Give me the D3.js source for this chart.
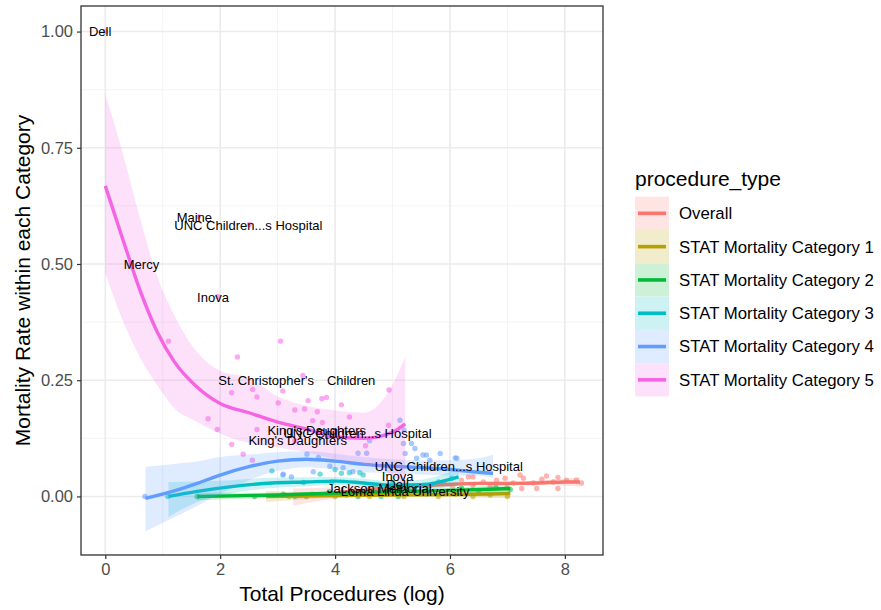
<!DOCTYPE html>
<html>
<head>
<meta charset="utf-8">
<script src="https://d3js.org/d3.v7.min.js"></script>
<style>
    body { margin: 0; background: #fff; }
    svg text { font-family: "Liberation Sans", Arial, Helvetica, sans-serif; }
</style>
</head>
<body>
<div id="chart"></div>
<script>
    "use strict"

    // categories
    var procedureTypes = ["Overall", "STAT Mortality Category 1", "STAT Mortality Category 2",
        "STAT Mortality Category 3", "STAT Mortality Category 4", "STAT Mortality Category 5"];
    var typeColors = ["#F8766D", "#B79F00", "#00BA38", "#00BFC4", "#619CFF", "#F564E3"];

    var xTicks = [0, 2, 4, 6, 8];
    var yTicks = [0, 0.25, 0.5, 0.75, 1];

    // hospitals, one array per procedure type: [log total procedures, mortality rate]
    var pointsOverall = [[6.2, 0.035], [6.32, 0.042], [6.4, 0.042], [6.4, 0.024], [6.58, 0.031], [6.7, 0.021],
        [6.81, 0.035], [6.96, 0.039], [6.99, 0.019], [7.1, 0.029], [7.22, 0.046], [7.25, 0.017],
        [7.28, 0.039], [7.45, 0.029], [7.51, 0.017], [7.6, 0.037], [7.68, 0.044], [7.8, 0.031],
        [7.88, 0.041], [7.88, 0.017], [8.03, 0.035], [8.2, 0.035], [8.29, 0.029], [5.9, 0.03], [6.05, 0.022]];
    var pointsCat1 = [[3.2, 0.0], [3.6, 0.005], [4.0, 0.0], [4.3, 0.008], [4.5, 0.01], [4.6, 0.0], [4.9, 0.004],
        [5.0, 0.012], [5.2, 0.0], [5.5, 0.006], [5.8, 0.0], [6.1, 0.005], [6.4, 0.0], [6.7, 0.003], [7.0, 0.0]];
    var pointsCat2 = [[1.6, 0.0], [2.6, 0.0], [3.1, 0.005], [3.5, 0.0], [3.9, 0.01], [4.2, 0.003], [4.4, 0.0],
        [4.6, 0.015], [4.9, 0.008], [5.1, 0.0], [5.3, 0.012], [5.6, 0.02], [5.9, 0.01], [6.2, 0.018],
        [6.5, 0.012], [6.8, 0.02], [7.05, 0.015]];
    var pointsCat3 = [[1.09, 0.0], [2.9, 0.055], [3.74, 0.048], [3.94, 0.031], [4.0, 0.058], [4.11, 0.05],
        [4.25, 0.051], [4.43, 0.051], [4.49, 0.046], [3.45, 0.03], [4.7, 0.02], [5.0, 0.03], [5.3, 0.012],
        [5.8, 0.031], [6.03, 0.039], [3.3, 0.0], [4.8, 0.0], [5.6, 0.005]];
    var pointsCat4 = [[0.69, 0.0], [3.09, 0.046], [3.1, 0.048], [3.24, 0.042], [3.51, 0.091], [3.62, 0.053],
        [3.71, 0.084], [3.91, 0.065], [4.14, 0.062], [4.31, 0.053], [4.4, 0.093], [4.55, 0.093],
        [5.13, 0.164], [5.2, 0.143], [5.19, 0.114], [5.33, 0.114], [5.39, 0.103], [5.42, 0.082],
        [5.22, 0.0925], [5.53, 0.089], [5.59, 0.089], [5.65, 0.078], [5.83, 0.0925], [6.09, 0.083],
        [6.12, 0.082], [3.91, 0.13], [4.6, 0.12]];
    var pointsCat5 = [[0, 1.0], [1.62, 0.602], [2.51, 0.585], [0.44, 0.498], [1.96, 0.43], [1.1, 0.334],
        [2.3, 0.3], [3.05, 0.334], [3.44, 0.26], [2.2, 0.223], [2.566, 0.23], [2.64, 0.214], [1.79, 0.167],
        [1.95, 0.144], [2.64, 0.144], [2.2, 0.112], [2.4, 0.091], [2.56, 0.078], [3.09, 0.227],
        [3.01, 0.201], [3.53, 0.206], [3.77, 0.21], [3.85, 0.213], [3.3, 0.186], [3.47, 0.188],
        [3.69, 0.182], [4.11, 0.197], [4.94, 0.229], [4.25, 0.171], [3.61, 0.163], [3.78, 0.159],
        [4.93, 0.153], [4.53, 0.109], [4.0, 0.14], [4.4, 0.13], [3.3, 0.12]];

    // loess fits: x, fit, lower, upper
    var smoothX = [
        [3.27, 4, 5, 6, 6.5, 7, 7.5, 8, 8.26],
        [2.8, 4, 5, 6, 7.05],
        [1.6, 3, 4, 5, 6, 7.05],
        [1.1, 1.6, 2.2, 2.9, 3.5, 4.0, 4.5, 5.0, 5.5, 6.15],
        [0.7, 1.2, 1.6, 2.0, 2.5, 3.0, 3.5, 4.0, 4.5, 5.0, 5.5, 6.0, 6.5, 6.75],
        [0, 0.3, 0.6, 0.9, 1.2, 1.6, 2.0, 2.5, 3.0, 3.5, 4.0, 4.5, 5.0, 5.22]
    ];
    var smoothFit = [
        [0.0, 0.008, 0.018, 0.026, 0.028, 0.028, 0.029, 0.031, 0.031],
        [0.0, 0.002, 0.003, 0.004, 0.006],
        [0.0, 0.003, 0.007, 0.01, 0.013, 0.017],
        [0.0, 0.011, 0.021, 0.029, 0.031, 0.033, 0.029, 0.024, 0.025, 0.042],
        [-0.004, 0.012, 0.028, 0.046, 0.064, 0.076, 0.08, 0.076, 0.069, 0.065, 0.062, 0.058, 0.052, 0.05],
        [0.668, 0.555, 0.445, 0.355, 0.29, 0.235, 0.2, 0.18, 0.16, 0.145, 0.128, 0.125, 0.138, 0.156]
    ];
    var smoothLo = [
        [-0.02, -0.004, 0.01, 0.021, 0.024, 0.024, 0.024, 0.023, 0.021],
        [-0.012, -0.003, -0.001, -0.001, -0.004],
        [-0.008, -0.002, 0.003, 0.006, 0.008, 0.008],
        [-0.044, -0.012, 0.007, 0.018, 0.022, 0.024, 0.021, 0.015, 0.014, 0.024],
        [-0.075, -0.045, -0.02, 0.005, 0.035, 0.055, 0.063, 0.058, 0.052, 0.05, 0.047, 0.045, 0.045, 0.04],
        [0.48, 0.38, 0.3, 0.24, 0.19, 0.16, 0.135, 0.115, 0.105, 0.095, 0.08, 0.07, 0.045, 0.015]
    ];
    var smoothHi = [
        [0.017, 0.02, 0.026, 0.031, 0.032, 0.032, 0.034, 0.038, 0.041],
        [0.012, 0.007, 0.007, 0.009, 0.016],
        [0.008, 0.008, 0.011, 0.014, 0.018, 0.026],
        [0.031, 0.032, 0.035, 0.04, 0.041, 0.042, 0.038, 0.033, 0.036, 0.06],
        [0.064, 0.07, 0.075, 0.085, 0.09, 0.095, 0.097, 0.092, 0.085, 0.08, 0.078, 0.078, 0.082, 0.09],
        [0.865, 0.74, 0.6, 0.475, 0.39, 0.31, 0.27, 0.255, 0.215, 0.195, 0.185, 0.18, 0.24, 0.3]
    ];

    // hospital names printed on the chart
    var labelText = ["Dell", "Maine", "UNC Children...s Hospital", "Mercy", "Inova", "St. Christopher's",
        "Children", "King's Daughters", "UNC Children...s Hospital", "King's Daughters",
        "UNC Children...s Hospital", "Inova", "Dell", "Jackson Memorial", "Loma Linda University"];
    var labelX = [-0.09, 1.55, 2.49, 0.63, 1.875, 2.8, 4.28, 3.68, 4.39, 3.35, 5.98, 5.09, 5.09, 4.77, 5.22];
    var labelY = [1.0, 0.6, 0.582, 0.5, 0.429, 0.249, 0.249, 0.143, 0.135, 0.12, 0.064, 0.042, 0.026, 0.018, 0.011];

    var allPoints = [pointsOverall, pointsCat1, pointsCat2, pointsCat3, pointsCat4, pointsCat5];

    var svg = d3.select("#chart").append("svg")
        .attr("width", 881)
        .attr("height", 610);

    var panel = { left: 81, right: 603, top: 6, bottom: 555 };

    var x = d3.scaleLinear().domain([-0.423, 8.664]).range([panel.left, panel.right]);
    var y = d3.scaleLinear().domain([-0.126, 1.055]).range([panel.bottom, panel.top]);

    var plot = svg.append("g");
    plot.append("rect")
        .attr("x", panel.left).attr("y", panel.top)
        .attr("width", panel.right - panel.left).attr("height", panel.bottom - panel.top)
        .attr("fill", "#fff");

    // grid, minor then major
    var xMinor = [1, 3, 5, 7];
    var yMinor = [-0.125, 0.125, 0.375, 0.625, 0.875];
    plot.selectAll(".xminor").data(xMinor).enter().append("line")
        .attr("x1", d => x(d)).attr("x2", d => x(d))
        .attr("y1", panel.top).attr("y2", panel.bottom)
        .attr("stroke", "#F3F3F3").attr("stroke-width", 1);
    plot.selectAll(".yminor").data(yMinor).enter().append("line")
        .attr("y1", d => y(d)).attr("y2", d => y(d))
        .attr("x1", panel.left).attr("x2", panel.right)
        .attr("stroke", "#F3F3F3").attr("stroke-width", 1);
    plot.selectAll(".xmajor").data(xTicks).enter().append("line")
        .attr("x1", d => x(d)).attr("x2", d => x(d))
        .attr("y1", panel.top).attr("y2", panel.bottom)
        .attr("stroke", "#EBEBEB").attr("stroke-width", 1.6);
    plot.selectAll(".ymajor").data(yTicks).enter().append("line")
        .attr("y1", d => y(d)).attr("y2", d => y(d))
        .attr("x1", panel.left).attr("x2", panel.right)
        .attr("stroke", "#EBEBEB").attr("stroke-width", 1.6);

    // points
    allPoints.forEach(function (pts, i) {
        plot.append("g").selectAll("circle")
            .data(pts)
            .enter()
            .append("circle")
            .attr("cx", d => x(d[0]))
            .attr("cy", d => y(d[1]))
            .attr("r", 2.7)
            .attr("fill", typeColors[i])
            .attr("fill-opacity", 0.55);
    });

    // smooths: ribbon then line, group by group
    var area = d3.area()
        .x(d => x(d.x)).y0(d => y(d.lo)).y1(d => y(d.hi))
        .curve(d3.curveMonotoneX);
    var line = d3.line()
        .x(d => x(d.x)).y(d => y(d.fit))
        .curve(d3.curveMonotoneX);

    procedureTypes.forEach(function (name, i) {
        var rows = smoothX[i].map(function (v, j) {
            return { x: v, fit: smoothFit[i][j], lo: smoothLo[i][j], hi: smoothHi[i][j] };
        });
        plot.append("path")
            .attr("d", area(rows))
            .attr("fill", typeColors[i])
            .attr("fill-opacity", 0.2);
        plot.append("path")
            .attr("d", line(rows))
            .attr("fill", "none")
            .attr("stroke", typeColors[i])
            .attr("stroke-width", 3.4);
    });

    // hospital labels
    plot.append("g").selectAll("text")
        .data(labelText)
        .enter()
        .append("text")
        .attr("x", (d, i) => x(labelX[i]))
        .attr("y", (d, i) => y(labelY[i]))
        .attr("dy", "0.35em")
        .attr("text-anchor", "middle")
        .attr("font-size", "13px")
        .attr("fill", "#000")
        .text(d => d);

    // panel border
    svg.append("rect")
        .attr("x", panel.left).attr("y", panel.top)
        .attr("width", panel.right - panel.left).attr("height", panel.bottom - panel.top)
        .attr("fill", "none").attr("stroke", "#333333").attr("stroke-width", 1.3);

    // axes
    var xAxis = svg.append("g")
        .attr("transform", "translate(0," + panel.bottom + ")")
        .call(d3.axisBottom(x).tickValues(xTicks).tickSize(4).tickPadding(4).tickFormat(d3.format("d")));
    var yAxis = svg.append("g")
        .attr("transform", "translate(" + panel.left + ",0)")
        .call(d3.axisLeft(y).tickValues(yTicks).tickSize(4).tickPadding(4).tickFormat(d3.format(".2f")));
    [xAxis, yAxis].forEach(function (ax) {
        ax.select(".domain").remove();
        ax.selectAll(".tick line").attr("stroke", "#333333").attr("stroke-width", 1.2);
        ax.selectAll(".tick text")
            .attr("fill", "#4D4D4D")
            .attr("font-size", "16.5px")
            .attr("font-family", "Liberation Sans, Arial, sans-serif");
    });

    svg.append("text")
        .attr("x", (panel.left + panel.right) / 2)
        .attr("y", 601)
        .attr("text-anchor", "middle")
        .attr("font-size", "21px")
        .text("Total Procedures (log)");

    svg.append("text")
        .attr("transform", "translate(30," + ((panel.top + panel.bottom) / 2) + ") rotate(-90)")
        .attr("text-anchor", "middle")
        .attr("font-size", "21px")
        .text("Mortality Rate within each Category");

    // legend
    var legend = svg.append("g").attr("transform", "translate(635,0)");
    legend.append("text")
        .attr("x", 0)
        .attr("y", 186)
        .attr("font-size", "21px")
        .text("procedure_type");

    var keyH = 33.3;
    var keys = legend.selectAll(".key")
        .data(procedureTypes)
        .enter()
        .append("g")
        .attr("transform", (d, i) => "translate(0," + (196.7 + i * keyH) + ")");
    keys.append("rect")
        .attr("width", 34).attr("height", keyH)
        .attr("fill", "#fff");
    keys.append("rect")
        .attr("width", 34).attr("height", keyH)
        .attr("fill", (d, i) => typeColors[i])
        .attr("fill-opacity", 0.2);
    keys.append("line")
        .attr("x1", 3).attr("x2", 31)
        .attr("y1", keyH / 2).attr("y2", keyH / 2)
        .attr("stroke", (d, i) => typeColors[i])
        .attr("stroke-width", 3.6);
    keys.append("text")
        .attr("x", 44)
        .attr("y", keyH / 2)
        .attr("dy", "0.35em")
        .attr("font-size", "16.8px")
        .text(d => d);
</script>
</body>
</html>
